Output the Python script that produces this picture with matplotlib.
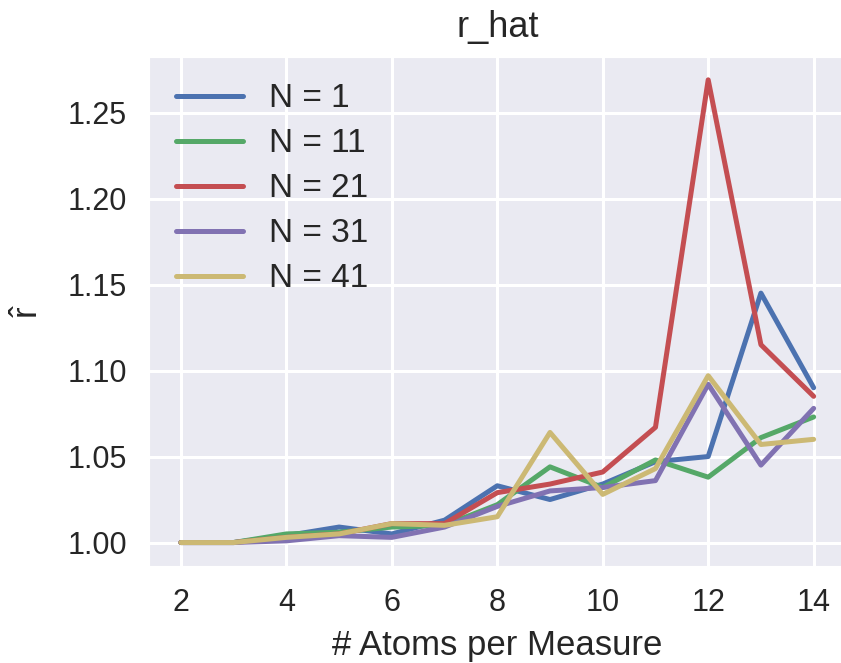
import matplotlib
matplotlib.use("Agg")
import matplotlib.pyplot as plt
import seaborn as sns

sns.set_style("darkgrid")
plt.rcParams['font.family'] = ['Liberation Sans', 'DejaVu Sans']
plt.rcParams['mathtext.default'] = 'regular'

atoms = [2, 3, 4, 5, 6, 7, 8, 9, 10, 11, 12, 13, 14]
rhat_n1 = [1.000, 1.000, 1.004, 1.009, 1.005, 1.013, 1.033, 1.025, 1.034, 1.047, 1.050, 1.145, 1.090]
rhat_n11 = [1.000, 1.000, 1.005, 1.006, 1.009, 1.010, 1.022, 1.044, 1.032, 1.048, 1.038, 1.061, 1.073]
rhat_n21 = [1.000, 1.000, 1.003, 1.005, 1.011, 1.011, 1.029, 1.034, 1.041, 1.067, 1.269, 1.115, 1.085]
rhat_n31 = [1.000, 1.000, 1.001, 1.004, 1.003, 1.009, 1.021, 1.030, 1.032, 1.036, 1.092, 1.045, 1.078]
rhat_n41 = [1.000, 1.000, 1.003, 1.005, 1.011, 1.010, 1.015, 1.064, 1.028, 1.043, 1.097, 1.057, 1.060]
labels = ['N = 1', 'N = 11', 'N = 21', 'N = 31', 'N = 41']
colors = ['#4C72B0', '#55A868', '#C44E52', '#8172B2', '#CCB974']

fig = plt.figure(figsize=(8.41, 6.63), dpi=100)
ax = fig.add_axes([0.1775, 0.1468, 0.8276, 0.7677])

for ys, lab, c in zip([rhat_n1, rhat_n11, rhat_n21, rhat_n31, rhat_n41], labels, colors):
    ax.plot(atoms, ys, color=c, lw=3.6, label=lab)

ax.grid(True, color='white', lw=2.2)
ax.set_xticks([2, 4, 6, 8, 10, 12, 14])
ax.tick_params(labelsize=22, colors='#262626', length=0, pad=16)
ax.set_title('r_hat', fontsize=26, color='#262626', pad=14)
ax.set_xlabel('# Atoms per Measure', fontsize=25, color='#262626', labelpad=8)
ax.set_ylabel(r'$\hat{r}$', fontsize=25, color='#262626', labelpad=16)
ax.legend(loc='upper left', fontsize=24, frameon=False, handlelength=2.0,
          labelspacing=0.42, borderaxespad=0.4)

fig.savefig('out.png', dpi=100)
